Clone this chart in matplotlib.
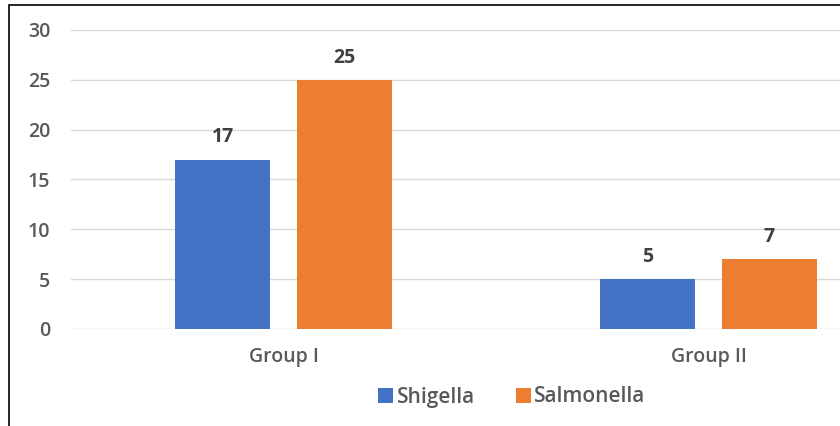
import matplotlib
matplotlib.use("Agg")
import matplotlib.pyplot as plt
from matplotlib.patches import Rectangle
import numpy as np

categories = ["Group I", "Group II"]
series_names = ["Shigella", "Salmonella"]
shigella = [17, 5]
salmonella = [25, 7]
yticks = [0, 5, 10, 15, 20, 25, 30]

colors = ["#4472C4", "#ED7D31"]
plt.rcParams['font.family'] = ['Open Sans', 'DejaVu Sans']

FS = 14
fig = plt.figure(figsize=(8.4, 4.26), dpi=100)
ax = fig.add_axes([71/840, 97/426, 850/840, 299/426])

x = np.arange(len(categories))
w = 0.2235
off = 0.1425
b1 = ax.bar(x - off, shigella, w, color=colors[0], label=series_names[0], zorder=3)
b2 = ax.bar(x + off, salmonella, w, color=colors[1], label=series_names[1], zorder=3)

for bars, vals in ((b1, shigella), (b2, salmonella)):
    for r, v in zip(bars, vals):
        ax.annotate(str(v), (r.get_x() + r.get_width()/2, v), xytext=(0, 16),
                    textcoords="offset points", ha="center", va="center",
                    fontsize=FS, fontweight="bold", color="#404040")

ax.set_xlim(-0.5, 1.5)
ax.set_ylim(0, 30)
ax.set_yticks(yticks)
ax.set_yticklabels([str(t) for t in yticks])
ax.set_xticks(x)
ax.set_xticklabels(categories)
ax.tick_params(axis="both", length=0, labelsize=FS, labelcolor="#595959")
for t in ax.get_xticklabels() + ax.get_yticklabels():
    t.set_fontweight("semibold")
ax.tick_params(axis="y", pad=15)
ax.tick_params(axis="x", pad=13)
for s in ax.spines.values():
    s.set_visible(False)
ax.yaxis.grid(True, color="#D9D9D9", linewidth=1, zorder=0)
ax.set_axisbelow(True)

leg = fig.legend(loc="center", bbox_to_anchor=(512/840, 29/426), ncol=2, frameon=False,
                 prop={"size": 15, "weight": "semibold"},
                 handlelength=0.72, handleheight=0.72, handletextpad=0.15,
                 columnspacing=2.0)
for t in leg.get_texts():
    t.set_color("#595959")

fig.patches.append(Rectangle((9/840, -0.1), 1.2, 1 - 5/426 + 0.1, transform=fig.transFigure,
                             fill=False, edgecolor="black", linewidth=1.2, zorder=10))

fig.savefig("out.png", dpi=100)
